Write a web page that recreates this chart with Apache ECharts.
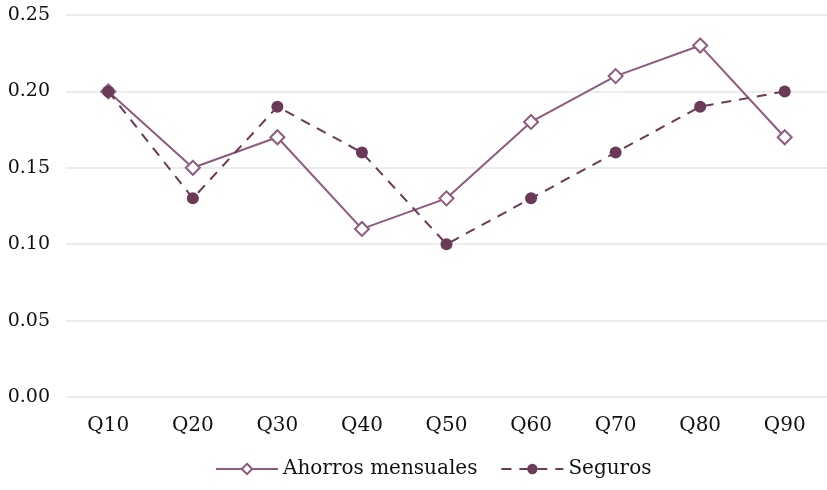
<!DOCTYPE html>
<html>
<head>
<meta charset="utf-8">
<script src="https://cdn.jsdelivr.net/npm/echarts@6/dist/echarts.min.js"></script>
<style>
  html, body { margin: 0; padding: 0; background: #ffffff; }
  #chart { width: 827px; height: 490px; }
</style>
</head>
<body>
<div id="chart"></div>
<script>
// Quantile categories
const categories = ['Q10', 'Q20', 'Q30', 'Q40', 'Q50', 'Q60', 'Q70', 'Q80', 'Q90'];
// Series values
const ahorros = [0.20, 0.15, 0.17, 0.11, 0.13, 0.18, 0.21, 0.23, 0.17];
const seguros = [0.20, 0.13, 0.19, 0.16, 0.10, 0.13, 0.16, 0.19, 0.20];
const seriesNames = ['Ahorros mensuales', 'Seguros'];

const FONT = 'DejaVu Serif';
const chart = echarts.init(document.getElementById('chart'), null, { renderer: 'canvas' });

chart.setOption({
  animation: false,
  textStyle: { fontFamily: FONT },
  grid: { left: 66, top: 15, width: 767, bottom: 93, containLabel: false },
  legend: {
    bottom: 6,
    left: 210,
    itemWidth: 62,
    itemHeight: 13,
    itemGap: 23,
    textStyle: { fontFamily: FONT, fontSize: 20, color: '#111' },
    data: seriesNames
  },
  xAxis: {
    type: 'category',
    data: categories,
    boundaryGap: true,
    axisLine: { show: false },
    axisTick: { show: false },
    axisLabel: { fontFamily: FONT, fontSize: 20, color: '#111', margin: 19 }
  },
  yAxis: {
    type: 'value',
    min: 0,
    max: 0.25,
    interval: 0.05,
    axisLine: { show: false },
    axisTick: { show: false },
    splitLine: { lineStyle: { color: '#e6e6e6', width: 1.5 } },
    axisLabel: {
      fontFamily: FONT, fontSize: 19, color: '#111', margin: 16,
      formatter: v => v.toFixed(2)
    }
  },
  series: [
    {
      name: seriesNames[0],
      type: 'line',
      data: ahorros,
      symbol: 'diamond',
      symbolSize: 14,
      color: '#8e5a7e',
      lineStyle: { color: '#8e5a7e', width: 2 },
      itemStyle: { color: '#ffffff', borderColor: '#8e5a7e', borderWidth: 2 },
      z: 2
    },
    {
      name: seriesNames[1],
      type: 'line',
      data: seguros,
      symbol: 'circle',
      symbolSize: 12,
      color: '#6a3a58',
      lineStyle: { color: '#6a3a58', width: 2, type: [10, 8] },
      itemStyle: { color: '#6a3a58', borderColor: '#6a3a58', borderWidth: 0 },
      z: 3
    }
  ]
});
</script>
</body>
</html>
